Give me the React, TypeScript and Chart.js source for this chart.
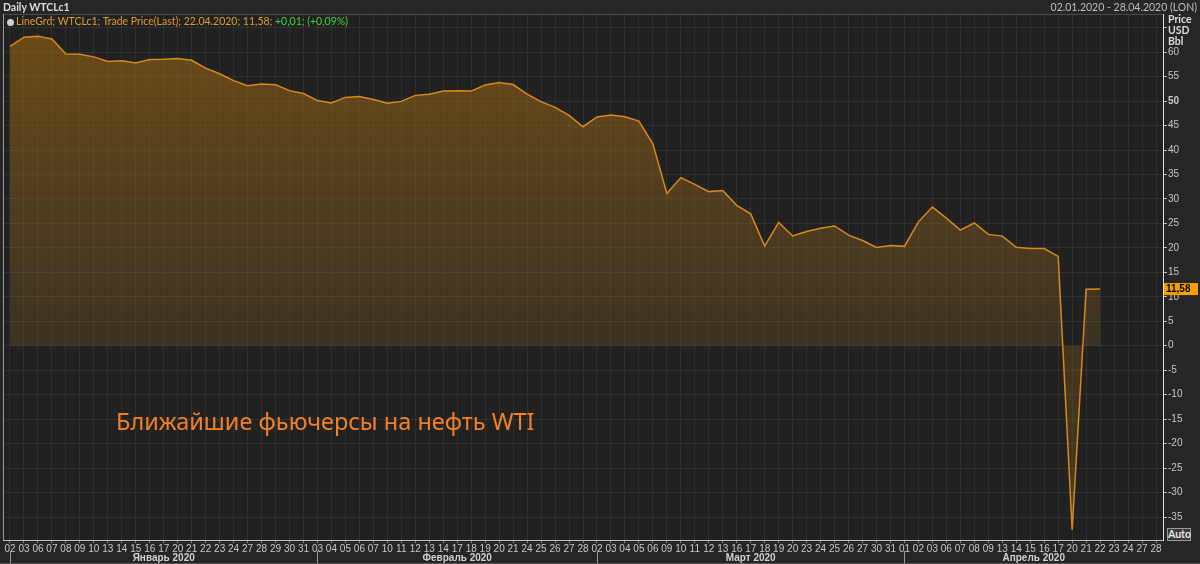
import React, { useRef, useEffect } from 'react';
import { Chart, registerables } from 'chart.js';

Chart.register(...registerables);

// торговые дни 02.01.2020 - 28.04.2020
const dayLabels = [
  '02', '03', '06', '07', '08', '09', '10', '13', '14', '15', '16', '17', '20', '21', '22', '23', '24', '27', '28', '29', '30', '31',
  '03', '04', '05', '06', '07', '10', '11', '12', '13', '14', '17', '18', '19', '20', '21', '24', '25', '26', '27', '28',
  '02', '03', '04', '05', '06', '09', '10', '11', '12', '13', '16', '17', '18', '19', '20', '23', '24', '25', '26', '27', '30', '31',
  '01', '02', '03', '06', '07', '08', '09', '13', '14', '15', '16', '17', '20', '21', '22', '23', '24', '27', '28',
];

const monthNames = ['Январь 2020', 'Февраль 2020', 'Март 2020', 'Апрель 2020'];
const monthStart = [0, 22, 42, 64];

const janPrices = [61.18, 63.05, 63.27, 62.7, 59.61, 59.56, 59.04, 58.08, 58.23, 57.81, 58.52, 58.54, 58.7, 58.34, 56.74, 55.59, 54.19, 53.14, 53.48, 53.33, 52.14, 51.56];
const febPrices = [50.11, 49.61, 50.75, 50.95, 50.32, 49.57, 49.94, 51.17, 51.42, 52.05, 52.1, 52.05, 53.29, 53.78, 53.38, 51.43, 49.9, 48.73, 47.09, 44.76];
const marPrices = [46.75, 47.18, 46.78, 45.9, 41.28, 31.13, 34.36, 32.98, 31.5, 31.73, 28.7, 26.95, 20.37, 25.22, 22.43, 23.36, 24.01, 24.49, 22.6, 21.51, 20.09, 20.48];
const aprPrices = [20.31, 25.32, 28.34, 26.08, 23.63, 25.09, 22.76, 22.41, 20.11, 19.87, 19.87, 18.27, -37.63, 11.57, 11.58, null, null, null, null];

const lastPrice = 11.58;
const yTicks = [-35, -30, -25, -20, -15, -10, -5, 0, 5, 10, 15, 20, 25, 30, 35, 40, 45, 50, 55, 60, 65];

const FONT = '"Liberation Sans", Arial, sans-serif';
const UI_FONT = 'Lato, "Liberation Sans", sans-serif';

const overlayPlugin = {
  id: 'overlay',
  beforeDraw(chart: any) {
    const { ctx, chartArea } = chart;
    ctx.save();
    ctx.fillStyle = '#212121';
    ctx.fillRect(chartArea.left, chartArea.top, chartArea.right - chartArea.left, chartArea.bottom - chartArea.top);
    ctx.restore();
  },
  afterDraw(chart: any) {
    const { ctx, chartArea, scales } = chart;
    const x = scales.x;
    const y = scales.y;
    ctx.save();
    // рамка
    ctx.strokeStyle = '#4a4a4a';
    ctx.lineWidth = 1;
    ctx.beginPath();
    ctx.moveTo(chartArea.left, chartArea.top + 0.5);
    ctx.lineTo(chartArea.right, chartArea.top + 0.5);
    ctx.stroke();
    ctx.strokeStyle = '#9a9a9a';
    ctx.beginPath();
    ctx.moveTo(chartArea.left + 0.5, chartArea.top);
    ctx.lineTo(chartArea.left + 0.5, chartArea.bottom);
    ctx.stroke();

    // месяцы
    const seps = monthStart.map(i => x.getPixelForValue(i));
    ctx.strokeStyle = '#9a9a9a';
    seps.forEach(sx => {
      ctx.beginPath();
      ctx.moveTo(Math.round(sx) + 0.5, 551);
      ctx.lineTo(Math.round(sx) + 0.5, 564);
      ctx.stroke();
    });
    ctx.strokeStyle = '#555';
    ctx.beginPath();
    ctx.moveTo(0, 563.5);
    ctx.lineTo(1200, 563.5);
    ctx.stroke();
    ctx.fillStyle = '#d0d0d0';
    ctx.font = `bold 10px ${FONT}`;
    ctx.textAlign = 'center';
    ctx.textBaseline = 'middle';
    monthNames.forEach((name, i) => {
      const a = seps[i];
      const b = i + 1 < seps.length ? seps[i + 1] : chartArea.right;
      ctx.fillText(name, (a + b) / 2, 558);
    });

    // последняя цена
    const py = y.getPixelForValue(lastPrice);
    ctx.fillStyle = '#f5a000';
    ctx.fillRect(chartArea.right + 1, py - 6, 34, 12);
    ctx.fillStyle = '#000';
    ctx.font = `bold 10px ${FONT}`;
    ctx.textAlign = 'left';
    ctx.fillText('11,58', chartArea.right + 3, py + 0.5);
    ctx.restore();
  },
};

const App: React.FC = () => {
  const chartRef = useRef<HTMLCanvasElement>(null);
  const chartInstance = useRef<Chart | null>(null);

  useEffect(() => {
    document.body.style.margin = '0';
    document.body.style.background = '#262626';
    if (!chartRef.current) return;
    if (chartInstance.current) chartInstance.current.destroy();

    const ctx = chartRef.current.getContext('2d');
    if (!ctx) return;

    const prices = [...janPrices, ...febPrices, ...marPrices, ...aprPrices];

    chartInstance.current = new Chart(ctx, {
      type: 'line',
      data: {
        labels: dayLabels,
        datasets: [
          {
            data: prices,
            borderColor: '#d8891c',
            borderWidth: 1.5,
            pointRadius: 0,
            tension: 0,
            fill: {
              target: 'origin',
              above: (c: any) => {
                const area = c.chart.chartArea;
                if (!area) return 'rgba(150,98,18,0.5)';
                const ys = c.chart.scales.y;
                const g = c.chart.ctx.createLinearGradient(0, ys.getPixelForValue(65), 0, ys.getPixelForValue(0));
                g.addColorStop(0, 'rgba(155,100,18,0.62)');
                g.addColorStop(1, 'rgba(130,95,35,0.28)');
                return g;
              },
              below: 'rgba(140,100,35,0.32)',
            },
          } as any,
        ],
      },
      options: {
        animation: false,
        responsive: true,
        maintainAspectRatio: false,
        layout: { padding: { left: 3, top: 14, right: 0, bottom: 0 } },
        plugins: {
          legend: { display: false },
          tooltip: { enabled: false },
        },
        scales: {
          x: {
            type: 'category',
            offset: true,
            grid: { color: 'rgba(255,255,255,0.06)', tickLength: 3, tickColor: '#888', offset: false },
            border: { color: '#bbbbbb' },
            ticks: {
              autoSkip: false,
              maxRotation: 0,
              minRotation: 0,
              color: '#c8c8c8',
              font: { family: FONT, size: 10 },
              padding: 0,
            },
            afterFit: (s: any) => { s.height = 24; },
          },
          y: {
            position: 'right',
            min: -39.7,
            max: 67.8,
            afterBuildTicks: (s: any) => { s.ticks = yTicks.map(v => ({ value: v })); },
            grid: { color: 'rgba(255,255,255,0.07)', tickLength: 4, tickColor: '#bbb' },
            border: { color: '#e0e0e0' },
            ticks: {
              color: '#c8c8c8',
              padding: 1,
              font: (c: any) => ({ family: FONT, size: 10, weight: c.tick && c.tick.value === 50 ? 'bold' : 'normal' }),
              callback: (v: any) => (Number(v) > 60 ? '' : String(v)),
            },
            afterFit: (s: any) => { s.width = 37; },
          },
        },
      },
      plugins: [overlayPlugin],
    });

    return () => {
      if (chartInstance.current) {
        chartInstance.current.destroy();
        chartInstance.current = null;
      }
    };
  }, []);

  const small: React.CSSProperties = { position: 'absolute', fontFamily: UI_FONT, fontSize: 10.5, lineHeight: '12px', whiteSpace: 'nowrap' };

  return (
    <div style={{ position: 'relative', width: 1200, height: 564, background: '#262626', overflow: 'hidden' }}>
      <canvas ref={chartRef} />
      <div style={{ ...small, left: 3, top: 1, color: '#dcdcdc', fontWeight: 'bold' }}>Daily WTCLc1</div>
      <div style={{ ...small, right: 3, top: 1, color: '#bfbfbf' }}>02.01.2020 - 28.04.2020 (LON)</div>
      <div style={{ ...small, left: 7, top: 15, color: '#e09a30' }}>
        <span style={{ display: 'inline-block', width: 7, height: 7, borderRadius: 4, background: '#cfcfcf', marginRight: 2, verticalAlign: 'middle' }} />
        LineGrd; WTCLc1; Trade Price(Last); 22.04.2020; 11,58;{' '}
        <span style={{ color: '#3fd23f' }}>+0,01; (+0,09%)</span>
      </div>
      <div style={{ ...small, left: 1168, top: 13, color: '#dcdcdc', fontWeight: 'bold' }}>Price</div>
      <div style={{ ...small, left: 1168, top: 24, color: '#dcdcdc', fontWeight: 'bold' }}>USD</div>
      <div style={{ ...small, left: 1168, top: 35, color: '#dcdcdc', fontWeight: 'bold' }}>Bbl</div>
      <div style={{ ...small, left: 1167, top: 528, width: 24, height: 13, border: '1px solid #9a9a9a', background: '#3a3a3a', color: '#e8e8e8', fontWeight: 'bold', textAlign: 'center', lineHeight: '11px', boxSizing: 'border-box' }}>Auto</div>
      <div style={{ position: 'absolute', left: 116, top: 409, fontFamily: '"Noto Sans", sans-serif', fontSize: 23.5, lineHeight: '24px', color: '#f0802a', whiteSpace: 'nowrap' }}>
        Ближайшие фьючерсы на нефть WTI
      </div>
    </div>
  );
};

export default App;
